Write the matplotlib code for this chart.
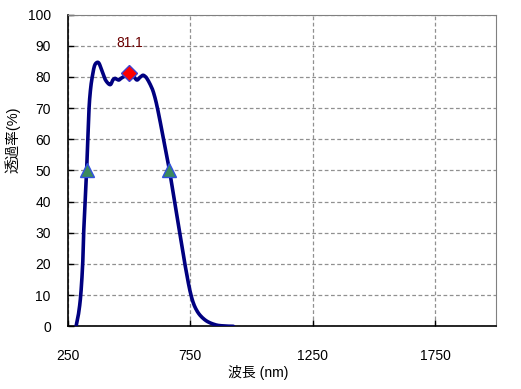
import matplotlib
matplotlib.use("Agg")
import matplotlib.pyplot as plt
import numpy as np

wavelength = [285, 295, 304, 312, 316, 322, 328, 333, 338, 344, 351, 360, 370, 379, 390, 405, 424, 435, 444, 452, 460, 470, 485, 503, 518, 533, 545, 557, 566, 574, 588, 601, 617, 642, 666, 687, 708, 729, 754, 778, 812, 853, 890, 927]
transmit  = [0, 4, 10, 20, 30, 40, 50, 60, 70, 76, 80, 83.5, 84.6, 84.3, 82, 79, 77.5, 79, 79.5, 79.2, 79, 79.6, 80.3, 81.1, 80.3, 79, 79.8, 80.5, 80.2, 79.5, 77.5, 75, 70, 60, 50, 40, 30, 20, 10, 5, 2, 0.5, 0.1, 0]

half_x = [328, 666]
half_y = [50, 50]
peak_x = [503]
peak_y = [81.1]
peak_label = "81.1"

xticks = [250, 750, 1250, 1750]
yticks = list(range(0, 101, 10))

plt.rcParams['font.family'] = ['Liberation Sans', 'Noto Sans CJK JP']

fig = plt.figure(figsize=(5.21, 3.89), dpi=100)
ax = fig.add_axes([67.5/521, 1 - 326.3/389, (496.3-67.5)/521, (326.3-14.5)/389])

xs = np.array(wavelength, float)
ys = np.array(transmit, float)

def catmull(xs, ys, n=12):
    px = np.concatenate([[xs[0]], xs, [xs[-1]]])
    py = np.concatenate([[ys[0]], ys, [ys[-1]]])
    ox, oy = [], []
    for i in range(1, len(px) - 2):
        t = np.linspace(0, 1, n, endpoint=False)
        for arr, out in ((px, ox), (py, oy)):
            p0, p1, p2, p3 = arr[i-1], arr[i], arr[i+1], arr[i+2]
            out.extend(0.5 * ((2*p1) + (-p0 + p2)*t + (2*p0 - 5*p1 + 4*p2 - p3)*t**2 + (-p0 + 3*p1 - 3*p2 + p3)*t**3))
    ox.append(xs[-1]); oy.append(ys[-1])
    return np.array(ox), np.array(oy)

sx, sy = catmull(xs, ys)
ax.plot(sx, np.clip(sy, 0, None), color='#000080', lw=2.6, zorder=3, solid_capstyle='round')
ax.plot(half_x, half_y, linestyle='none', marker='^', ms=10, mfc='#3a8a5e', mec='#3050e0', mew=1, zorder=4)
ax.plot(peak_x, peak_y, linestyle='none', marker='D', ms=8.5, mfc='#ff0000', mec='#4040d0', mew=1, zorder=4)
ax.text(peak_x[0], 88.7, peak_label, ha='center', va='bottom', fontsize=10, color='#6a0000')

ax.set_xlim(250, 2000)
ax.set_ylim(0, 100)
ax.set_xticks(xticks)
ax.set_yticks(yticks)
ax.tick_params(direction='in', length=4, width=1, labelsize=10, colors='black')
ax.tick_params(axis='y', pad=12)
ax.tick_params(axis='x', pad=16)
ax.grid(True, color='#909090', linestyle=(0, (3, 2)), linewidth=0.9)
for s in ['top', 'right']:
    ax.spines[s].set_color('#808080')
for s in ['left', 'bottom']:
    ax.spines[s].set_color('black')
    ax.spines[s].set_linewidth(1.2)

fig.text(258/521, 1 - 373/389, '波長 (nm)', ha='center', va='center', fontsize=10)
fig.text(13/521, 1 - 140/389, '透過率(%)', ha='center', va='center', fontsize=10.5, rotation=90)

fig.savefig('out.png', dpi=100)
